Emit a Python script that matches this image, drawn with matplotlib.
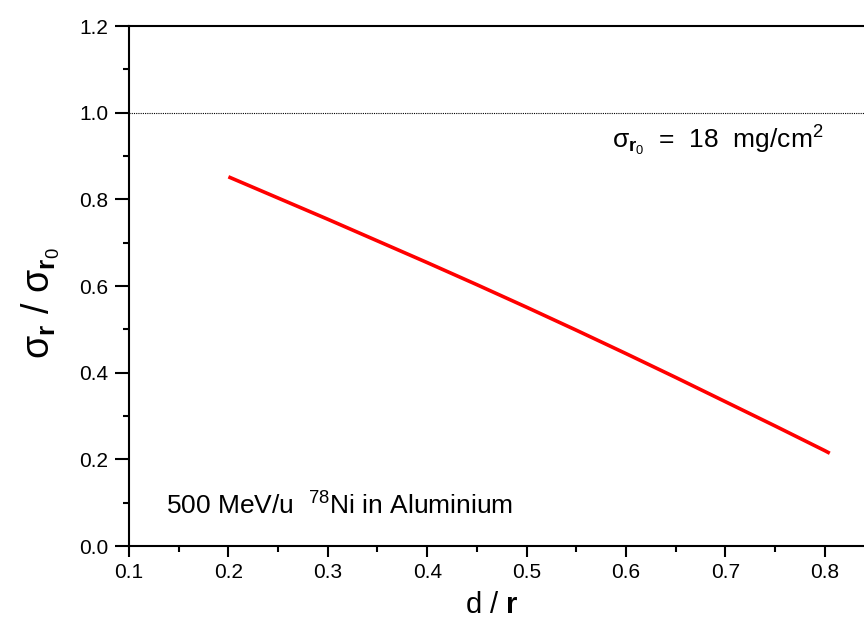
import numpy as np
import matplotlib
matplotlib.use("Agg")
import matplotlib.pyplot as plt
import matplotlib.transforms as mtransforms

plt.rcParams['font.family'] = ['Liberation Sans', 'DejaVu Sans']
plt.rcParams['mathtext.fontset'] = 'custom'
plt.rcParams['mathtext.rm'] = 'Liberation Sans'
plt.rcParams['mathtext.it'] = 'Liberation Sans:italic'
plt.rcParams['mathtext.bf'] = 'Liberation Sans:bold'

# data
d_over_r = [0.2, 0.25, 0.3, 0.35, 0.4, 0.45, 0.5, 0.55, 0.6, 0.65, 0.7, 0.75, 0.8, 0.805]
sigma_ratio = [0.852, 0.803, 0.754, 0.704, 0.654, 0.603, 0.551, 0.498, 0.444,
               0.389, 0.333, 0.277, 0.220, 0.214]
ref_level = 1.0

fig = plt.figure(figsize=(8.64, 6.21), dpi=100)
x0, x1 = 0.1, 0.85
left = 129 / 864
bottom = (621 - 546) / 621
height = 520 / 621
width = (x1 - x0) * 994 / 864
ax = fig.add_axes([left, bottom, width, height])

ax.plot(d_over_r, sigma_ratio, color='red', lw=2.6, solid_capstyle='butt')
ax.axhline(ref_level, color='black', lw=0.8, ls=(0, (1, 1)))

ax.set_xlim(x0, x1)
ax.set_ylim(0.0, 1.2)
ax.set_xticks(np.arange(0.1, 0.81, 0.1))
ax.set_xticks(np.arange(0.15, 0.86, 0.1), minor=True)
ax.set_yticks(np.arange(0.0, 1.21, 0.2))
ax.set_yticks(np.arange(0.1, 1.2, 0.2), minor=True)
ax.xaxis.set_major_formatter(plt.FormatStrFormatter('%.1f'))
ax.yaxis.set_major_formatter(plt.FormatStrFormatter('%.1f'))

for s in ax.spines.values():
    s.set_linewidth(1.5)
ax.tick_params(which='major', direction='out', width=1.5, labelsize=15)
ax.tick_params(axis='y', which='major', length=10, pad=5)
ax.tick_params(axis='x', which='major', length=8, pad=4)
ax.tick_params(which='minor', direction='out', width=1.5, length=4.5)

ax.set_ylabel(r'$\mathrm{\sigma}_{\mathbf{r}}$ / $\mathrm{\sigma}_{\mathbf{r}_0}$', fontsize=27)
ax.yaxis.set_label_coords(-0.09, 0.467)
ax.set_xlabel(r'd / $\mathbf{r}$', fontsize=21)
trans = mtransforms.blended_transform_factory(ax.transData, ax.transAxes)
ax.xaxis.set_label_coords(0.465, -0.086, transform=trans)

ax.text(0.137, 0.072, r'500 MeV/u  $^{78}$Ni in Aluminium', fontsize=19)
ax.text(0.586, 0.918, r'$\mathrm{\sigma}_{\mathbf{r}_0}$  =  18  mg/cm$^2$', fontsize=19)

fig.savefig('out.png', dpi=100)
